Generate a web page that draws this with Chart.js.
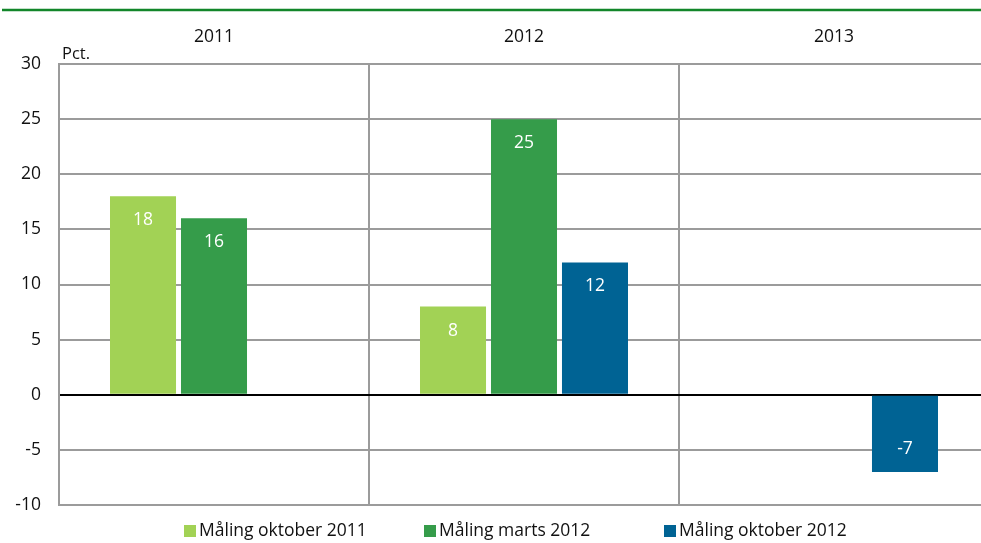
<!DOCTYPE html>
<html>
<head>
<meta charset="utf-8">
<script src="https://cdn.jsdelivr.net/npm/chart.js@4/dist/chart.umd.min.js"></script>
<style>
  html, body { margin: 0; padding: 0; background: #fff; overflow: hidden; }
  #wrap { position: relative; width: 992px; height: 543px; }
</style>
</head>
<body>
<div id="wrap"><canvas id="chart"></canvas></div>
<script>
// Data
const years = ["2011", "2012", "2013"];
const seriesNames = ["Måling oktober 2011", "Måling marts 2012", "Måling oktober 2012"];
const maalingOkt2011 = [18, 8, null];
const maalingMarts2012 = [16, 25, null];
const maalingOkt2012 = [null, 12, -7];
const yMin = -10, yMax = 30, yStep = 5;
const unitLabel = "Pct.";

const colors = ["#a2d255", "#359c4a", "#006394"];
const FONT = "'Open Sans', 'Noto Sans', sans-serif";

// Extra bits drawn on the canvas: top rule, "Pct.", value labels, legend
const decorations = {
    id: "decorations",
    afterDatasetsDraw(chart) {
        const ctx = chart.ctx;
        ctx.save();

        // value labels, white, inside the bar end
        ctx.font = "17.5px " + FONT;
        ctx.fillStyle = "#ffffff";
        ctx.textAlign = "center";
        ctx.textBaseline = "middle";
        chart.data.datasets.forEach((ds, i) => {
            chart.getDatasetMeta(i).data.forEach((bar, j) => {
                const v = ds.data[j];
                if (v === null) return;
                const y = v >= 0 ? bar.y + 24 : bar.y - 23;
                ctx.fillText(String(v), bar.x, y);
            });
        });
        ctx.restore();
    },
    afterDraw(chart) {
        const ctx = chart.ctx;
        const area = chart.chartArea;
        ctx.save();

        // green rule along the top
        ctx.strokeStyle = "#12862a";
        ctx.lineWidth = 2.5;
        ctx.beginPath();
        ctx.moveTo(2, 10);
        ctx.lineTo(chart.width, 10);
        ctx.stroke();

        // unit label above the y axis
        ctx.font = "16.5px " + FONT;
        ctx.fillStyle = "#111";
        ctx.textAlign = "left";
        ctx.textBaseline = "alphabetic";
        ctx.fillText(unitLabel, area.left + 3, area.top - 5);

        // legend, fixed-width columns
        const itemW = 240;
        const startX = area.left + 125;
        const ly = area.bottom + 26;
        ctx.font = "17.5px " + FONT;
        ctx.textBaseline = "middle";
        chart.data.datasets.forEach((ds, i) => {
            const x = startX + i * itemW;
            ctx.fillStyle = ds.backgroundColor;
            ctx.fillRect(x, ly - 6, 12, 12);
            ctx.fillStyle = "#111";
            ctx.fillText(ds.label, x + 15, ly);
        });
        ctx.restore();
    }
};

const gridGrey = "#9b9b9b";

new Chart(document.getElementById("chart"), {
    type: "bar",
    data: {
        labels: years,
        datasets: [
            { label: seriesNames[0], data: maalingOkt2011, backgroundColor: colors[0] },
            { label: seriesNames[1], data: maalingMarts2012, backgroundColor: colors[1] },
            { label: seriesNames[2], data: maalingOkt2012, backgroundColor: colors[2] }
        ]
    },
    options: {
        responsive: true,
        maintainAspectRatio: false,
        animation: false,
        categoryPercentage: 0.687,
        barPercentage: 0.93,
        layout: { padding: { top: 0, right: 3, bottom: 38, left: 0 } },
        plugins: {
            legend: { display: false },
            tooltip: { enabled: false }
        },
        scales: {
            x: {
                position: "top",
                grid: { color: gridGrey, lineWidth: 2, drawTicks: false, offset: true },
                border: { display: false },
                ticks: { color: "#111", font: { family: FONT, size: 17.5 }, padding: 16 },
                afterFit(scale) { scale.height = 64; }
            },
            y: {
                min: yMin,
                max: yMax,
                ticks: { stepSize: yStep, color: "#111", font: { family: FONT, size: 17.5 }, padding: 18 },
                grid: {
                    drawTicks: false,
                    lineWidth: 2,
                    color: (c) => (c.tick && c.tick.value === 0 ? "#000000" : gridGrey)
                },
                border: { display: true, color: gridGrey, width: 2 },
                afterFit(scale) { scale.width = 59; }
            }
        }
    },
    plugins: [decorations]
});
</script>
</body>
</html>
